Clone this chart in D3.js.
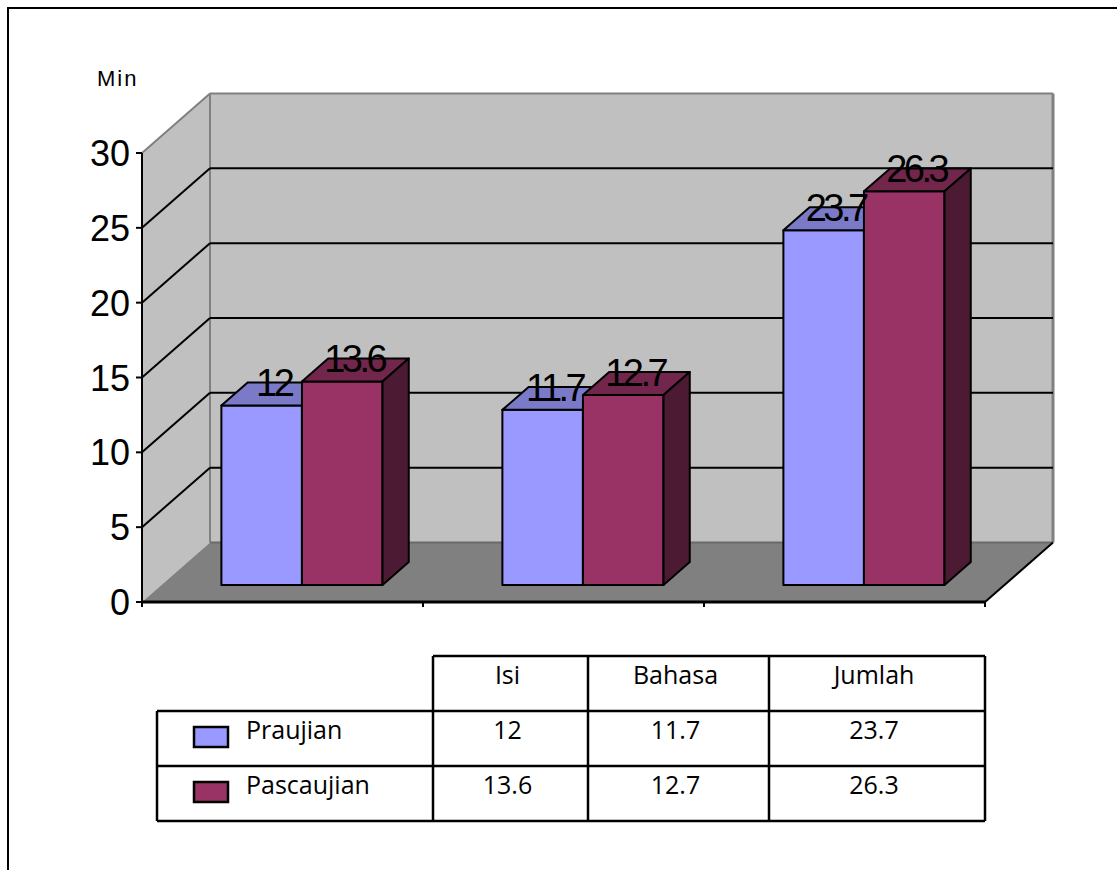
<!DOCTYPE html>
<html lang="en">
<head>
    <meta charset="UTF-8">
    <title>Min</title>
    <script src="https://d3js.org/d3.v7.min.js"></script>
    <style>
        html, body { margin: 0; height: 100%; overflow: hidden; background: #fff; }
    </style>
</head>
<body>
    <svg id="svg"></svg>
    <script>
        // data
        const categories = ['Isi', 'Bahasa', 'Jumlah'];
        const series = ['Praujian', 'Pascaujian'];
        const praujian = [12, 11.7, 23.7];
        const pascaujian = [13.6, 12.7, 26.3];
        const yTicks = [0, 5, 10, 15, 20, 25, 30];
        const values = { Praujian: praujian, Pascaujian: pascaujian };

        const colors = {
            Praujian: { front: '#9999ff', top: '#7a7ac8', side: '#5c5c99' },
            Pascaujian: { front: '#993366', top: '#72264c', side: '#4d1a33' }
        };

        const width = 1117, height = 870;
        const svg = d3.select('#svg').attr('width', width).attr('height', height);

        // outer frame (runs off right/bottom)
        svg.append('rect')
            .attr('x', 8).attr('y', 8).attr('width', 1130).attr('height', 900)
            .attr('fill', 'none').attr('stroke', '#000').attr('stroke-width', 2);

        // 3d plot geometry
        const left = 142, right = 985;
        const DX = 68, DY = -59.5;
        const y = d3.scaleLinear().domain([0, 30]).range([602, 153]);
        const x = d3.scaleBand().domain(categories).range([left, right]);
        const xs = d3.scaleBand().domain(series).range([0, x.bandwidth()]).paddingOuter(0.744);
        const z1 = 0.286, z2 = 0.672;

        const p = (xx, v, z) => [xx + DX * z, y(v) + DY * z];
        const line = pts => 'M' + pts.map(d => d.join(',')).join('L') + 'Z';

        const g = svg.append('g');

        // side wall
        g.append('path')
            .attr('d', line([p(left, 0, 0), p(left, 30, 0), p(left, 30, 1), p(left, 0, 1)]))
            .attr('fill', '#c0c0c0');
        // back wall
        g.append('path')
            .attr('d', line([p(left, 0, 1), p(left, 30, 1), p(right, 30, 1), p(right, 0, 1)]))
            .attr('fill', '#c0c0c0');
        // floor
        g.append('path')
            .attr('d', line([p(left, 0, 0), p(right, 0, 0), p(right, 0, 1), p(left, 0, 1)]))
            .attr('fill', '#808080');

        // wall edges
        const edge = (a, b, c, w) => g.append('line')
            .attr('x1', a[0]).attr('y1', a[1]).attr('x2', b[0]).attr('y2', b[1])
            .attr('stroke', c).attr('stroke-width', w);
        edge(p(left, 30, 0), p(left, 30, 1), '#808080', 2);
        edge(p(left, 30, 1), p(right, 30, 1), '#808080', 2);
        edge(p(left, 30, 1), p(left, 0, 1), '#808080', 2);
        edge(p(right, 30, 1), p(right, 0, 1), '#808080', 3);
        edge(p(left, 0, 1), p(right, 0, 1), '#6a6a6a', 2);

        // gridlines
        yTicks.filter(t => t > 0 && t < 30).forEach(t => {
            edge(p(left, t, 0), p(left, t, 1), '#000', 2);
            edge(p(left, t, 1), p(right, t, 1), '#000', 2);
        });

        // axes
        edge(p(left, 0, 0), p(left, 30, 0), '#000', 2);
        edge(p(left, 0, 0), p(right, 0, 0), '#000', 3);
        edge(p(right, 0, 0), p(right, 0, 1), '#000', 2);

        g.selectAll('.ytick').data(yTicks).join('line')
            .attr('class', 'ytick')
            .attr('x1', left - 6).attr('x2', left)
            .attr('y1', d => y(d)).attr('y2', d => y(d))
            .attr('stroke', '#000').attr('stroke-width', 2);

        g.selectAll('.ylabel').data(yTicks).join('text')
            .attr('class', 'ylabel')
            .attr('x', 130).attr('y', d => y(d) + 13)
            .attr('text-anchor', 'end')
            .attr('font-family', 'Liberation Sans, Arial, sans-serif')
            .attr('font-size', 36)
            .text(d => d);

        const xTickPos = categories.map(c => x(c)).concat([right]);
        g.selectAll('.xtick').data(xTickPos).join('line')
            .attr('class', 'xtick')
            .attr('x1', d => d).attr('x2', d => d)
            .attr('y1', y(0)).attr('y2', y(0) + 5)
            .attr('stroke', '#000').attr('stroke-width', 2);

        svg.append('text')
            .attr('x', 97).attr('y', 86)
            .attr('font-family', 'Liberation Sans, Arial, sans-serif')
            .attr('font-size', 22)
            .attr('letter-spacing', 2)
            .text('Min');

        // bars
        const bars = [];
        categories.forEach((c, i) => {
            series.forEach(s => {
                const x0 = x(c) + xs(s), x1 = x0 + xs.bandwidth();
                bars.push({ c, s, v: values[s][i], x0, x1 });
            });
        });

        const bg = g.selectAll('.bar').data(bars).join('g').attr('class', 'bar');
        bg.append('path')
            .attr('d', d => line([p(d.x0, 0, z1), p(d.x1, 0, z1), p(d.x1, d.v, z1), p(d.x0, d.v, z1)]))
            .attr('fill', d => colors[d.s].front);
        bg.append('path')
            .attr('d', d => line([p(d.x0, d.v, z1), p(d.x1, d.v, z1), p(d.x1, d.v, z2), p(d.x0, d.v, z2)]))
            .attr('fill', d => colors[d.s].top);
        bg.append('path')
            .attr('d', d => line([p(d.x1, 0, z1), p(d.x1, d.v, z1), p(d.x1, d.v, z2), p(d.x1, 0, z2)]))
            .attr('fill', d => colors[d.s].side);
        bg.selectAll('path')
            .attr('stroke', '#000').attr('stroke-width', 2).attr('stroke-linejoin', 'round');

        g.selectAll('.vlabel').data(bars).join('text')
            .attr('class', 'vlabel')
            .attr('x', d => (d.x0 + d.x1) / 2 + DX * z1 + 12)
            .attr('y', d => y(d.v) + DY * z1 - 9)
            .attr('text-anchor', 'middle')
            .attr('font-family', 'Liberation Sans, Arial, sans-serif')
            .attr('font-size', 38)
            .attr('letter-spacing', -3.5)
            .text(d => d.v);

        // data table
        const cols = [433, 588, 769, 985];
        const rows = [656, 711, 766, 821];
        const tl = svg.append('g').attr('stroke', '#000').attr('stroke-width', 2.5);
        const tline = (x1, y1, x2, y2) => tl.append('line')
            .attr('x1', x1).attr('y1', y1).attr('x2', x2).attr('y2', y2);
        tline(cols[0], rows[0], cols[3], rows[0]);
        tline(157, rows[1], cols[3], rows[1]);
        tline(157, rows[2], cols[3], rows[2]);
        tline(157, rows[3], cols[3], rows[3]);
        tline(157, rows[1], 157, rows[3]);
        cols.forEach(cx => tline(cx, rows[0], cx, rows[3]));

        const tfont = '"Open Sans", sans-serif';
        const tsize = 25;
        svg.selectAll('.thead').data(categories).join('text')
            .attr('class', 'thead')
            .attr('x', (d, i) => (cols[i] + cols[i + 1]) / 2 - 3)
            .attr('y', rows[0] + 28)
            .attr('text-anchor', 'middle')
            .attr('font-family', tfont).attr('font-size', tsize)
            .text(d => d);

        series.forEach((s, r) => {
            const ry = rows[r + 1];
            svg.append('rect')
                .attr('x', 194).attr('y', ry + 16).attr('width', 34).attr('height', 20)
                .attr('fill', colors[s].front)
                .attr('stroke', '#000').attr('stroke-width', 2.5);
            svg.append('text')
                .attr('x', 246).attr('y', ry + 28)
                .attr('font-family', tfont).attr('font-size', tsize)
                .text(s);
            svg.selectAll('.tcell' + r).data(values[s]).join('text')
                .attr('x', (d, i) => (cols[i] + cols[i + 1]) / 2 - 3)
                .attr('y', ry + 28)
                .attr('text-anchor', 'middle')
                .attr('font-family', tfont).attr('font-size', tsize)
                .text(d => d);
        });
    </script>
</body>
</html>
